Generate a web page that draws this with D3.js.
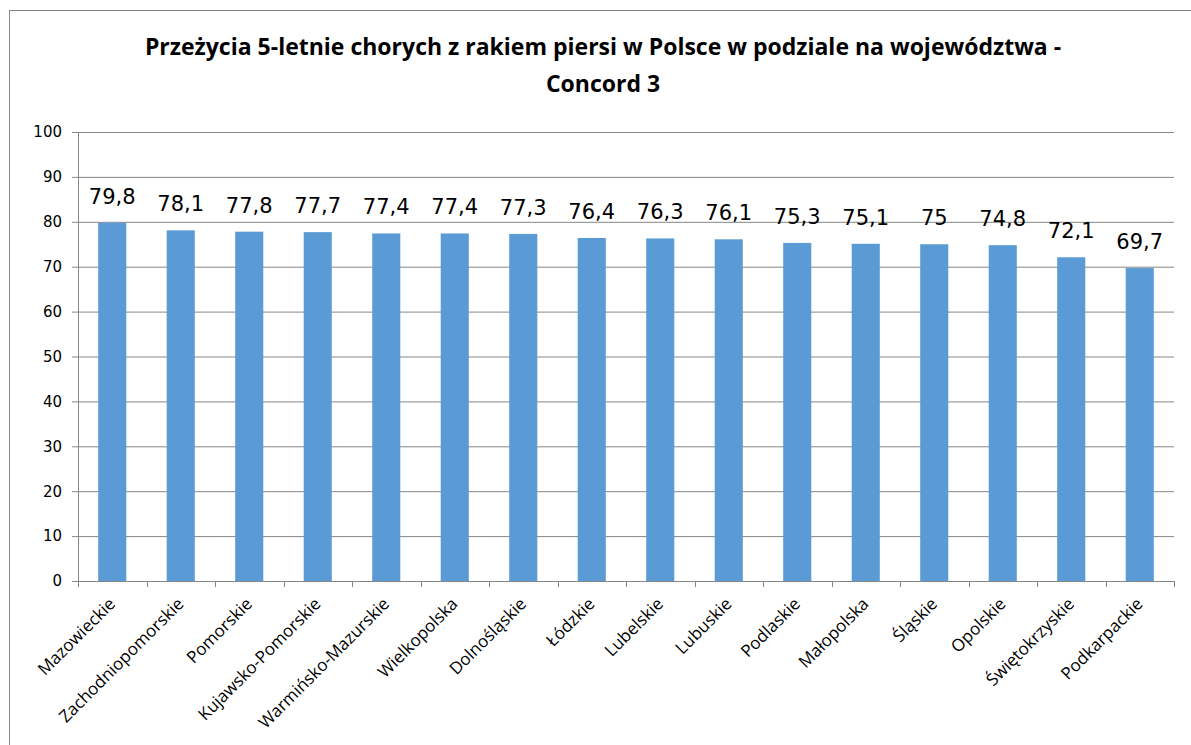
<!DOCTYPE html>
<html>
<head>
<meta charset="utf-8">
<script src="https://cdn.jsdelivr.net/npm/d3@7"></script>
<style>
  body { margin: 0; background: #fff; }
  svg { display: block; }
</style>
</head>
<body>
<div class="chart"></div>
<script>
var regions = ['Mazowieckie', 'Zachodniopomorskie', 'Pomorskie', 'Kujawsko-Pomorskie',
    'Warmińsko-Mazurskie', 'Wielkopolska', 'Dolnośląskie', 'Łódzkie', 'Lubelskie',
    'Lubuskie', 'Podlaskie', 'Małopolska', 'Śląskie', 'Opolskie', 'Świętokrzyskie',
    'Podkarpackie'];
var survival = [79.8, 78.1, 77.8, 77.7, 77.4, 77.4, 77.3, 76.4, 76.3, 76.1, 75.3, 75.1, 75, 74.8, 72.1, 69.7];
var yTicks = [0, 10, 20, 30, 40, 50, 60, 70, 80, 90, 100];
var titleLines = ['Przeżycia 5-letnie chorych z rakiem piersi w Polsce w podziale na województwa -', 'Concord 3'];

var fullWidth = 1191;
var fullHeight = 745;
var margin = { top: 132, right: 17, bottom: 164, left: 78 };
var width = fullWidth - margin.left - margin.right;
var height = fullHeight - margin.top - margin.bottom;

var svg = d3.select('.chart')
    .append('svg')
    .attr('width', fullWidth)
    .attr('height', fullHeight);

// outer chart border
svg.append('rect')
    .attr('x', 9.5).attr('y', 10.5)
    .attr('width', fullWidth + 10).attr('height', fullHeight + 10)
    .attr('fill', 'none')
    .attr('stroke', '#868686');

svg.append('g').selectAll('text')
    .data(titleLines)
    .enter().append('text')
    .attr('x', 603)
    .attr('y', function (d, i) { return 55 + i * 37; })
    .attr('text-anchor', 'middle')
    .style('font-family', '"Open Sans", sans-serif')
    .style('font-weight', 'bold')
    .style('font-size', '23px')
    .text(function (d) { return d; });

var g = svg.append('g')
    .attr('transform', 'translate(' + margin.left + ',' + margin.top + ')');

var x = d3.scaleBand()
    .domain(regions)
    .range([0, width])
    .paddingInner(0.59)
    .paddingOuter(0.295);

var y = d3.scaleLinear()
    .domain([0, 100])
    .range([height, 0]);

// gridlines + y labels
var yAxis = d3.axisLeft(y)
    .tickValues(yTicks)
    .tickSize(-width - 6)
    .tickPadding(10)
    .tickFormat(d3.format('d'));

var yg = g.append('g')
    .attr('transform', 'translate(-6,0)')
    .call(yAxis);
yg.select('.domain').remove();
yg.selectAll('.tick line').attr('stroke', '#868686');
yg.selectAll('.tick text')
    .attr('fill', '#000')
    .style('font-family', '"DejaVu Sans", Verdana, sans-serif')
    .style('font-size', '15px');

// y axis line
g.append('line')
    .attr('x1', 0.5).attr('x2', 0.5)
    .attr('y1', 0).attr('y2', height)
    .attr('stroke', '#868686');

g.selectAll('.bar')
    .data(survival)
    .enter().append('rect')
    .attr('class', 'bar')
    .attr('x', function (d, i) { return x(regions[i]); })
    .attr('width', x.bandwidth())
    .attr('y', function (d) { return y(d); })
    .attr('height', function (d) { return height - y(d); })
    .attr('fill', '#5B9BD5');

g.selectAll('.label')
    .data(survival)
    .enter().append('text')
    .attr('class', 'label')
    .attr('x', function (d, i) { return x(regions[i]) + x.bandwidth() / 2; })
    .attr('y', function (d) { return y(d) - 19; })
    .attr('text-anchor', 'middle')
    .style('font-family', '"DejaVu Sans", Verdana, sans-serif')
    .style('font-size', '21px')
    .text(function (d) { return String(d).replace('.', ','); });

// x axis with boundary ticks
var step = width / regions.length;
var xg = g.append('g').attr('transform', 'translate(0,' + height + ')');
xg.append('line')
    .attr('x1', 0).attr('x2', width)
    .attr('y1', 0.5).attr('y2', 0.5)
    .attr('stroke', '#868686');
xg.selectAll('.xtick')
    .data(d3.range(regions.length + 1))
    .enter().append('line')
    .attr('x1', function (d) { return Math.round(d * step) + 0.5; })
    .attr('x2', function (d) { return Math.round(d * step) + 0.5; })
    .attr('y1', 0).attr('y2', 6)
    .attr('stroke', '#868686');

xg.selectAll('.xlabel')
    .data(regions)
    .enter().append('text')
    .attr('text-anchor', 'end')
    .attr('transform', function (d) {
        return 'translate(' + (x(d) + x.bandwidth() / 2 + 4) + ',24) rotate(-45)';
    })
    .style('font-family', '"Open Sans", sans-serif')
    .style('font-size', '17px')
    .text(function (d) { return d; });
</script>
</body>
</html>
